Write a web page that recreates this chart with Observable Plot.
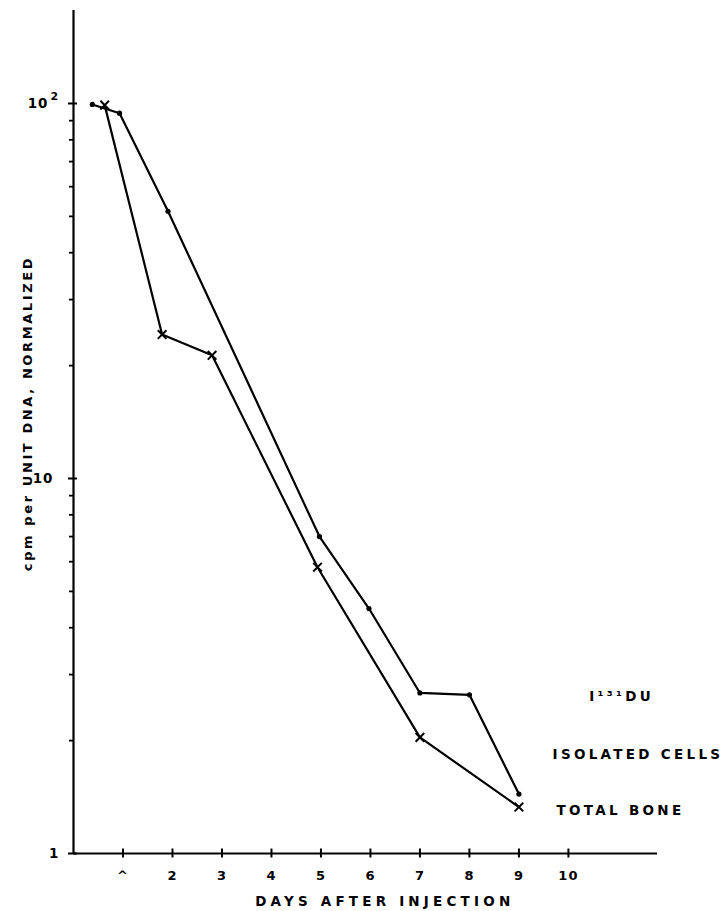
<!DOCTYPE html>
<html>
<head>
<meta charset="utf-8">
<script src="https://cdn.jsdelivr.net/npm/d3@7"></script>
<script src="https://cdn.jsdelivr.net/npm/@observablehq/plot@0.6"></script>
<style>
  html, body { margin: 0; padding: 0; background: #fff; }
  #chart svg { display: block; }
</style>
</head>
<body>
<div id="chart"></div>
<script>
// ---- data ----
const xTicks = [1, 2, 3, 4, 5, 6, 7, 8, 9, 10];
const xTickLabels = ["^", "2", "3", "4", "5", "6", "7", "8", "9", "10"];
const yMajorTicks = [1, 10, 100];
const yMajorBase = ["1", "10", "10"];
const yMajorExponent = ["", "", "2"];
const yMinorTicks = [2, 3, 4, 5, 6, 7, 8, 9, 20, 30, 40, 50, 60, 70, 80, 90];

const isolatedDays   = [0.38, 0.93, 1.91, 4.97, 5.97, 7.0, 8.0, 9.0];
const isolatedValues = [99.4, 94.2, 51.6, 7.0, 4.5, 2.68, 2.65, 1.44];
const boneDays       = [0.63, 1.79, 2.8, 4.93, 7.0, 9.0];
const boneValues     = [99.0, 24.2, 21.3, 5.8, 2.04, 1.33];

const seriesLabels = ["I¹³¹DU", "ISOLATED CELLS", "TOTAL BONE"];
const yTitle = "cpm per UNIT DNA, NORMALIZED";
const xTitle = "DAYS AFTER INJECTION";

// ---- build ----
const isolated = isolatedDays.map((d, i) => ({day: d, value: isolatedValues[i]}));
const bone = boneDays.map((d, i) => ({day: d, value: boneValues[i]}));
const xLabelMap = new Map(xTicks.map((t, i) => [t, xTickLabels[i]]));
const yLabels = yMajorTicks.map((t, i) => ({v: t, base: yMajorBase[i], exp: yMajorExponent[i]}));

const xMax = 11.8, yMax = 177;
// layout (kept apart from data)
const yLabelOffsets = [-14, -20, -25];
const labelPos = [
  {x: 10.42, y: 2.62},
  {x: 9.68, y: 1.84},
  {x: 9.76, y: 1.30}
];
const labels = seriesLabels.map((t, i) => ({text: t, ...labelPos[i]}));

const yLabelMarks = yLabels.flatMap((l, i) => [
  Plot.text([l], {x: 0, y: "v", text: "base", dx: yLabelOffsets[i], textAnchor: "end", fontSize: 13.5, fontWeight: "bold", fill: "#000"}),
  Plot.text([l], {x: 0, y: "v", text: "exp", dx: yLabelOffsets[i] + 2, dy: -7, textAnchor: "start", fontSize: 11, fontWeight: "bold", fill: "#000"})
]);

const chart = Plot.plot({
  width: 724,
  height: 911,
  marginLeft: 73,
  marginRight: 67,
  marginTop: 10,
  marginBottom: 58,
  x: {domain: [0, xMax], axis: null},
  y: {type: "log", domain: [1, yMax], axis: null},
  style: {fontFamily: "DejaVu Sans", fontWeight: "bold", fontSize: "13px", background: "#fff", color: "#000"},
  marks: [
    Plot.ruleX([0], {y1: 1, y2: yMax, stroke: "#000", strokeWidth: 2.2}),
    Plot.ruleY([1], {x1: 0, x2: xMax, stroke: "#000", strokeWidth: 2.2}),
    // x ticks crossing the axis
    Plot.axisX(xTicks, {anchor: "bottom", tickSize: 9, dy: -4.5, tickFormat: () => "", label: null, stroke: "#000", strokeWidth: 2}),
    Plot.axisX(xTicks, {anchor: "bottom", tickSize: 0, tickPadding: 17, tickFormat: d => xLabelMap.get(d), label: null, fontSize: 13, fontWeight: "bold", fill: "#000"}),
    // y ticks
    Plot.axisY(yMajorTicks, {anchor: "left", tickSize: 9, dx: 4, tickFormat: () => "", label: null, stroke: "#000", strokeWidth: 2}),
    Plot.axisY(yMinorTicks, {anchor: "left", tickSize: 4, tickFormat: () => "", label: null, stroke: "#000", strokeWidth: 1.8}),
    ...yLabelMarks,
    // lines
    Plot.line(isolated, {x: "day", y: "value", stroke: "#000", strokeWidth: 2.2}),
    Plot.line(bone, {x: "day", y: "value", stroke: "#000", strokeWidth: 2.2}),
    Plot.dot(isolated, {x: "day", y: "value", r: 2.6, fill: "#000"}),
    Plot.dot(bone, {x: "day", y: "value", symbol: "times", r: 4, stroke: "#000", strokeWidth: 2}),
    // labels
    Plot.text(labels, {x: "x", y: "y", text: "text", textAnchor: "start", fontSize: 13.5, fontWeight: "bold", fill: "#000"}),
    Plot.text([yTitle], {x: 0, y: 14.9, rotate: -90, dx: -46, fontSize: 13, fontWeight: "bold", fill: "#000"}),
    Plot.text([xTitle], {x: 6.29, y: 1, dy: 48, fontSize: 13.5, fontWeight: "bold", fill: "#000"})
  ]
});

d3.select(chart).selectAll("text").each(function() {
  const t = this.textContent;
  let ls = "1px";
  if (t === xTitle) ls = "4.2px";
  else if (t === yTitle) ls = "2.6px";
  else if (seriesLabels.includes(t)) ls = "3.3px";
  d3.select(this).style("letter-spacing", ls);
});
document.getElementById("chart").appendChild(chart);
</script>
</body>
</html>
